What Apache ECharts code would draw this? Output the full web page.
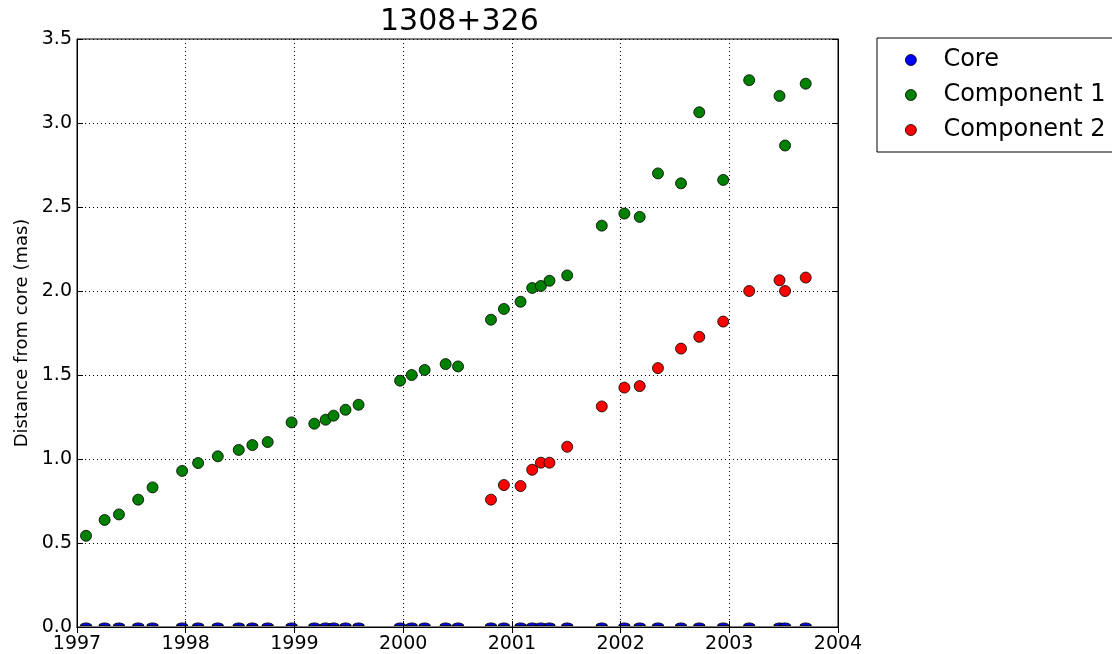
<!DOCTYPE html>
<html>
<head>
<meta charset="utf-8">
<script src="https://cdn.jsdelivr.net/npm/echarts@6/dist/echarts.min.js"></script>
<style>
  html, body { margin: 0; padding: 0; background: #fff; }
  #chart { width: 1112px; height: 654px; }
</style>
</head>
<body>
<div id="chart"></div>
<script>
// Observation epochs (decimal years) for the core and component 1
const epochs = [1997.083, 1997.254, 1997.386, 1997.563, 1997.695, 1997.967, 1998.114, 1998.295,
  1998.488, 1998.613, 1998.754, 1998.974, 1999.183, 1999.287, 1999.360, 1999.470, 1999.590,
  1999.972, 2000.079, 2000.198, 2000.391, 2000.505, 2000.808, 2000.927, 2001.080, 2001.187,
  2001.267, 2001.346, 2001.509, 2001.827, 2002.035, 2002.176, 2002.344, 2002.556, 2002.724,
  2002.944, 2003.183, 2003.462, 2003.513, 2003.703];

// Core sits at the origin by definition
const coreDist = [0, 0, 0, 0, 0, 0, 0, 0, 0, 0, 0, 0, 0, 0, 0, 0, 0, 0, 0, 0,
  0, 0, 0, 0, 0, 0, 0, 0, 0, 0, 0, 0, 0, 0, 0, 0, 0, 0, 0, 0];

// Component 1 distance from core (mas)
const comp1Dist = [0.543, 0.637, 0.670, 0.758, 0.831, 0.929, 0.976, 1.016, 1.054, 1.083,
  1.101, 1.218, 1.210, 1.234, 1.258, 1.293, 1.323, 1.466, 1.500, 1.530, 1.565, 1.551,
  1.829, 1.893, 1.936, 2.018, 2.030, 2.061, 2.093, 2.389, 2.461, 2.441, 2.700, 2.641,
  3.064, 2.661, 3.255, 3.161, 2.866, 3.234];

// Component 2 is only seen from late 2000 onward
const comp2Epochs = [2000.808, 2000.927, 2001.080, 2001.187, 2001.267, 2001.346, 2001.509,
  2001.827, 2002.035, 2002.176, 2002.344, 2002.556, 2002.724, 2002.944, 2003.183, 2003.462,
  2003.513, 2003.703];
const comp2Dist = [0.758, 0.845, 0.839, 0.936, 0.978, 0.978, 1.073, 1.313, 1.425, 1.434,
  1.541, 1.657, 1.727, 1.818, 2.000, 2.064, 2.000, 2.080];

const seriesNames = ['Core', 'Component 1', 'Component 2'];
const seriesColors = ['#0000ff', '#008000', '#ff0000'];

const FONT = 'DejaVu Sans';
const pairs = (xs, ys) => xs.map((x, i) => [x, ys[i]]);

// upper half of a circle: points on the zero line are cut by the plot frame
const HALF_DISC = 'path://M0,10A10,10,0,0,1,20,10Z';

const chart = echarts.init(document.getElementById('chart'), null, { renderer: 'canvas' });

const dotted = { color: '#000', width: 1, type: [1, 3] };
const tickStyle = { show: true, inside: true, length: 6, lineStyle: { color: '#000', width: 1 } };

const mkSeries = (i, data, extra) => Object.assign({
  name: seriesNames[i],
  type: 'scatter',
  data: data,
  symbol: 'circle',
  symbolSize: 11,
  clip: false,
  itemStyle: { color: seriesColors[i], borderColor: '#000', borderWidth: 0.8, opacity: 1 },
  emphasis: { disabled: true },
  z: 2 + i
}, extra || {});

chart.setOption({
  animation: false,
  backgroundColor: '#fff',
  title: {
    text: '1308+326',
    left: 375,
    top: 2,
    textStyle: { fontFamily: FONT, fontSize: 30, fontWeight: 'normal', color: '#000' }
  },
  grid: {
    left: 77, right: 274, top: 39, bottom: 27,
    show: true, borderColor: '#000', borderWidth: 1, backgroundColor: 'transparent'
  },
  legend: {
    orient: 'vertical',
    left: 877,
    top: 38,
    data: seriesNames,
    icon: 'circle',
    itemWidth: 11,
    itemHeight: 11,
    itemGap: 11,
    padding: [10, 30, 10, 28],
    borderColor: '#000',
    borderWidth: 1,
    borderRadius: 0,
    backgroundColor: '#fff',
    selectedMode: false,
    itemStyle: { borderColor: '#000', borderWidth: 0.8 },
    textStyle: { fontFamily: FONT, fontSize: 24, color: '#000', lineHeight: 24, padding: [0, 0, 0, 22] }
  },
  xAxis: [
    {
      type: 'value', position: 'bottom', min: 1997, max: 2004, interval: 1,
      axisLine: { show: true, lineStyle: { color: '#000', width: 1 } },
      axisTick: tickStyle,
      axisLabel: {
        fontFamily: FONT, fontSize: 19, color: '#000', margin: 8,
        formatter: v => String(Math.round(v))
      },
      splitLine: { show: true, lineStyle: dotted }
    },
    {
      type: 'value', position: 'top', min: 1997, max: 2004, interval: 1,
      axisLine: { show: true, lineStyle: { color: '#000', width: 1 } },
      axisTick: tickStyle,
      axisLabel: { show: false },
      splitLine: { show: false }
    }
  ],
  yAxis: [
    {
      type: 'value', position: 'left', min: 0, max: 3.5, interval: 0.5,
      name: 'Distance from core (mas)',
      nameLocation: 'middle',
      nameGap: 44,
      nameTextStyle: { fontFamily: FONT, fontSize: 18, color: '#000' },
      axisLine: { show: true, lineStyle: { color: '#000', width: 1 } },
      axisTick: tickStyle,
      axisLabel: {
        fontFamily: FONT, fontSize: 19, color: '#000', margin: 5,
        formatter: v => v.toFixed(1)
      },
      splitLine: { show: true, lineStyle: dotted }
    },
    {
      type: 'value', position: 'right', min: 0, max: 3.5, interval: 0.5,
      axisLine: { show: true, lineStyle: { color: '#000', width: 1 } },
      axisTick: tickStyle,
      axisLabel: { show: false },
      splitLine: { show: false }
    }
  ],
  series: [
    mkSeries(0, pairs(epochs, coreDist), {
      symbol: HALF_DISC,
      symbolSize: [11, 5.5],
      symbolOffset: [0, '-50%'],
      symbolKeepAspect: true
    }),
    mkSeries(1, pairs(epochs, comp1Dist)),
    mkSeries(2, pairs(comp2Epochs, comp2Dist))
  ]
});
</script>
</body>
</html>
